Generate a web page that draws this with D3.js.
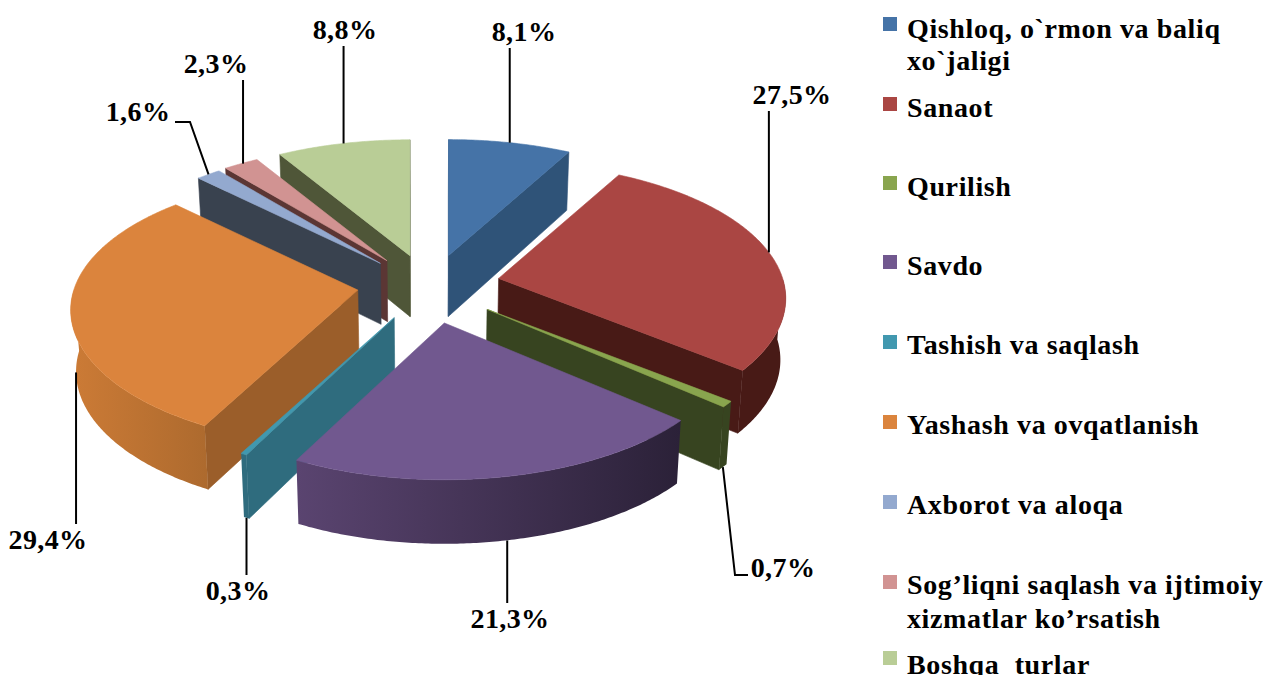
<!DOCTYPE html>
<html><head><meta charset="utf-8">
<script src="https://cdn.jsdelivr.net/npm/d3@7/dist/d3.min.js"></script>
<style>html,body{margin:0;background:#fff}svg{display:block}
text{font-family:"Liberation Serif",serif;font-weight:700;fill:#000}</style></head>
<body><svg id="c" width="1266" height="675"></svg>
<script>
// Data
const categories = ["Qishloq, o`rmon va baliq|xo`jaligi","Sanaot","Qurilish","Savdo","Tashish va saqlash","Yashash va ovqatlanish","Axborot va aloqa","Sog’liqni saqlash va ijtimoiy|xizmatlar ko’rsatish","Boshqa  turlar"];
const shares = [8.1,27.5,0.7,21.3,0.3,29.4,1.6,2.3,8.8];
const shareLabels = ["8,1%","27,5%","0,7%","21,3%","0,3%","29,4%","1,6%","2,3%","8,8%"];
// Styles
const topColors  = ["#4573a7","#aa4643","#89a54e","#71588f","#4198af","#db843d","#93a9cf","#d19392","#b9cd96"];
const sideColors = ["#2f5378","#481a16","#374420","#2c2239","#2f6c7e","#9b5e2a","#39424f","#5b3634","#4f5638"];
const rimStops   = [["#2f5378","#2f5378"],["#481a16","#481a16"],["#374420","#374420"],["#5a4470","#2b2138"],["#2f6c7e","#2f6c7e"],["#cc7b36","#ad6a2e"],["#39424f","#39424f"],["#5b3634","#5b3634"],["#4f5638","#4f5638"]];
const paintOrder = [0,8,7,6,1,5,2,4,3];
// Layout
const cx=428, cy=288, R=284, tilt=0.48, explode=70, H=61, persp=0.15, taper=0.015;
const sliceNudge = [[3,0],[2,-3],[5,0],[3,2],[-1,0],[-1,-3],[0,0],[0,0],[1,0]];
const labelPos = [[524,32],[792,95],[783,568],[510,619],[238,591],[48,540],[138,112],[216,64],[345,30]];
const leaderDx = [0,0,0,2,0,0,0,2,0];
const elbowPos = [null,null,[735,575,748,575],null,null,null,[190,122,175,122],null,null];
const legendMarkY=[24,104,183,262,342,422,502,582,658];
const legendBase=[[38,70],[117],[196],[275],[354],[434],[514],[594,628],[674]];

const svg=d3.select("#c");
const defs=svg.append("defs");
const arcs=d3.pie().sort(null).value(d=>d).startAngle(0).endAngle(2*Math.PI)(shares);
arcs.forEach((d,i)=>d.nudge=sliceNudge[i]);
const radius=d3.scaleLinear().domain([0,1]).range([0,R]);
const line=d3.line();

function apex(d){const m=(d.startAngle+d.endAngle)/2;return [cx+d.nudge[0]+explode*Math.sin(m),cy+d.nudge[1]-explode*Math.cos(m)*tilt];}
function proj(d,a,t,bottom){
  const [ax,ay]=apex(d),r=radius(t),u=r*Math.sin(a),v=-r*Math.cos(a);
  const f=1+persp*v/R;
  let x=ax+u*f,y=ay+v*tilt*f;
  if(bottom){x=x-(x-cx)*taper;y=y+H*(1+0.05*v/R);}
  return [x,y];
}
const area=p=>d3.polygonArea(p);
paintOrder.forEach(i=>{
  const d=arcs[i],g=svg.append("g");
  const A0=proj(d,0,0),B0=proj(d,0,0,true);
  [[d.startAngle,-1],[d.endAngle,1]].forEach(([a,s])=>{
    const poly=[A0,proj(d,a,1),proj(d,a,1,true),B0];
    if(area(poly)*s<0) g.append("path").attr("d",line(poly)+"Z").attr("fill",sideColors[i]).attr("stroke",sideColors[i]).attr("stroke-width",.6);
  });
  const a0=Math.max(d.startAngle,Math.PI/2),a1=Math.min(d.endAngle,3*Math.PI/2);
  if(a1>a0){
    const as=d3.range(a0,a1,0.01).concat(a1);
    const topP=as.map(a=>proj(d,a,1)),botP=as.map(a=>proj(d,a,1,true));
    const all=topP.concat(botP.slice().reverse());
    const xs=d3.extent(all,p=>p[0]),id="rim"+i;
    const gr=defs.append("linearGradient").attr("id",id).attr("gradientUnits","userSpaceOnUse")
      .attr("x1",xs[0]).attr("x2",xs[1]).attr("y1",0).attr("y2",0);
    gr.append("stop").attr("offset",0).attr("stop-color",rimStops[i][0]);
    gr.append("stop").attr("offset",1).attr("stop-color",rimStops[i][1]);
    g.append("path").attr("d",line(all)+"Z").attr("fill",`url(#${id})`);
  }
  const as=d3.range(d.startAngle,d.endAngle,0.01).concat(d.endAngle);
  const poly=[A0].concat(as.map(a=>proj(d,a,1)));
  g.append("path").attr("d",line(poly)+"Z").attr("fill",topColors[i]).attr("stroke",topColors[i]).attr("stroke-width",.6);
});
arcs.forEach((d,i)=>{
  const m=(d.startAngle+d.endAngle)/2,lower=Math.cos(m)<0;
  const s0=proj(d,m,1,lower),s=[s0[0]+leaderDx[i],s0[1]],[lx,ly]=labelPos[i],e=elbowPos[i];
  let pts;
  if(e) pts=[s,[e[0],e[1]],[e[2],e[3]]];
  else pts=[s,[s[0],lower?ly-16:ly+16]];
  svg.append("path").attr("d",line(pts)).attr("fill","none").attr("stroke","#000").attr("stroke-width",2);
  svg.append("text").attr("x",lx).attr("y",ly+9).attr("text-anchor","middle").attr("font-size",28).attr("letter-spacing",.4).text(shareLabels[i]);
});
categories.forEach((c,i)=>{
  svg.append("rect").attr("x",883).attr("y",legendMarkY[i]-7).attr("width",14).attr("height",14).attr("fill",topColors[i]);
  c.split("|").forEach((t,j)=>svg.append("text").attr("x",907).attr("y",legendBase[i][j]).attr("font-size",28).attr("letter-spacing",.62).attr("xml:space","preserve").text(t));
});
</script></body></html>
